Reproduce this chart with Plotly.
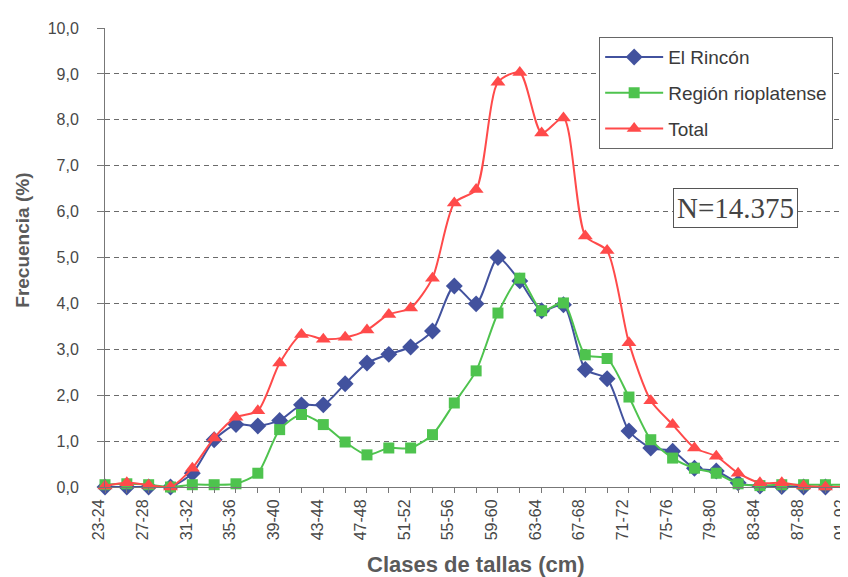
import plotly.graph_objects as go

classes = ["23-24","25-26","27-28","29-30","31-32","33-34","35-36","37-38","39-40","41-42",
           "43-44","45-46","47-48","49-50","51-52","53-54","55-56","57-58","59-60","61-62",
           "63-64","65-66","67-68","69-70","71-72","73-74","75-76","77-78","79-80","81-82",
           "83-84","85-86","87-88","89-90","91-92"]
el_rincon = [0.0,0.0,0.0,0.0,0.3,1.03,1.36,1.33,1.45,1.79,1.79,2.25,2.7,2.89,3.05,3.4,4.38,3.99,
             5.0,4.49,3.84,3.97,2.56,2.36,1.22,0.85,0.78,0.41,0.35,0.09,0.02,0.01,0.0,0.0,0.0]
rioplatense = [0.05,0.07,0.05,0.0,0.05,0.05,0.07,0.3,1.25,1.58,1.36,0.98,0.7,0.85,0.85,1.14,1.83,
               2.53,3.79,4.55,3.84,4.01,2.88,2.8,1.96,1.03,0.63,0.41,0.3,0.07,0.03,0.05,0.05,0.05,0.05]
total = [0.02,0.09,0.04,0.0,0.41,1.07,1.52,1.66,2.7,3.32,3.22,3.26,3.42,3.76,3.9,4.55,6.19,6.48,
         8.82,9.03,7.71,8.04,5.47,5.15,3.14,1.88,1.36,0.85,0.67,0.3,0.09,0.09,0.02,0.0,0.0]
y_ticks = [0,1,2,3,4,5,6,7,8,9,10]
y_ticktext = ["0,0","1,0","2,0","3,0","4,0","5,0","6,0","7,0","8,0","9,0","10,0"]

xs = list(range(len(classes)))

series = [
    ("El Rincón", el_rincon, "#42529e", "diamond", 13),
    ("Región rioplatense", rioplatense, "#4ec34e", "square", 11),
    ("Total", total, "#ff4a4a", "triangle-up", 13),
]

fig = go.Figure()
for name, vals, col, sym, sz in series:
    fig.add_trace(go.Scatter(
        x=xs, y=vals, name=name, mode="lines+markers",
        line=dict(color=col, width=2, shape="spline", smoothing=0.7),
        marker=dict(symbol=sym, size=sz, color=col),
        cliponaxis=False, legendgroup=name,
    ))

fig.update_layout(
    width=848, height=577,
    margin=dict(l=97, r=0, t=20, b=98),
    paper_bgcolor="white", plot_bgcolor="white",
    font=dict(family="Liberation Sans, Arial, sans-serif", color="#484848"),
    showlegend=True,
    legend=dict(
        x=0.658, y=0.98, xanchor="left", yanchor="top",
        bgcolor="white", bordercolor="#666666", borderwidth=1,
        font=dict(size=19, color="#3a3a3a"), tracegroupgap=8, itemwidth=58,
    ),
    annotations=[
        dict(
            text="N=14.375", xref="paper", yref="paper", x=0.84, y=0.607,
            xanchor="center", yanchor="middle",
            showarrow=False, font=dict(family="Liberation Serif, Times New Roman, serif", size=29, color="#444444"),
            bordercolor="#555555", borderwidth=1, borderpad=3, bgcolor="white",
        ),
        dict(
            text="<b>Frecuencia (%)</b>", xref="paper", yref="paper", x=-0.111, y=0.538,
            xanchor="center", yanchor="middle", textangle=-90, showarrow=False,
            font=dict(size=19, color="#5a5a5a"),
        ),
        dict(
            text="<b>Clases de tallas (cm)</b>", xref="paper", yref="paper", x=0.494, y=-0.168,
            xanchor="center", yanchor="middle", showarrow=False,
            font=dict(size=22, color="#5a5a5a"),
        ),
    ],
)

fig.update_xaxes(
    range=[0, 34.4],
    tickmode="array", tickvals=xs[::2], ticktext=classes[::2],
    tickangle=-90, tickfont=dict(size=16, color="#484848"),
    ticklabeloverflow="allow", ticklabelshift=-6,
    ticks="outside", ticklen=5, tickcolor="#777777",
    minor=dict(ticks="outside", ticklen=5, tickcolor="#777777", dtick=1, tick0=0, showgrid=False),
    showline=True, linecolor="#777777", linewidth=1,
    showgrid=False, zeroline=False,
)
fig.update_yaxes(
    range=[0, 10],
    tickmode="array", tickvals=y_ticks, ticktext=y_ticktext,
    tickfont=dict(size=16, color="#484848"),
    ticks="outside", ticklen=7, tickcolor="#777777", ticklabelstandoff=15,
    showline=True, linecolor="#777777", linewidth=1,
    showgrid=True, gridcolor="#6a6a6a", gridwidth=1, griddash="5px,4px",
    zeroline=False,
)

fig.write_html("out.html")
